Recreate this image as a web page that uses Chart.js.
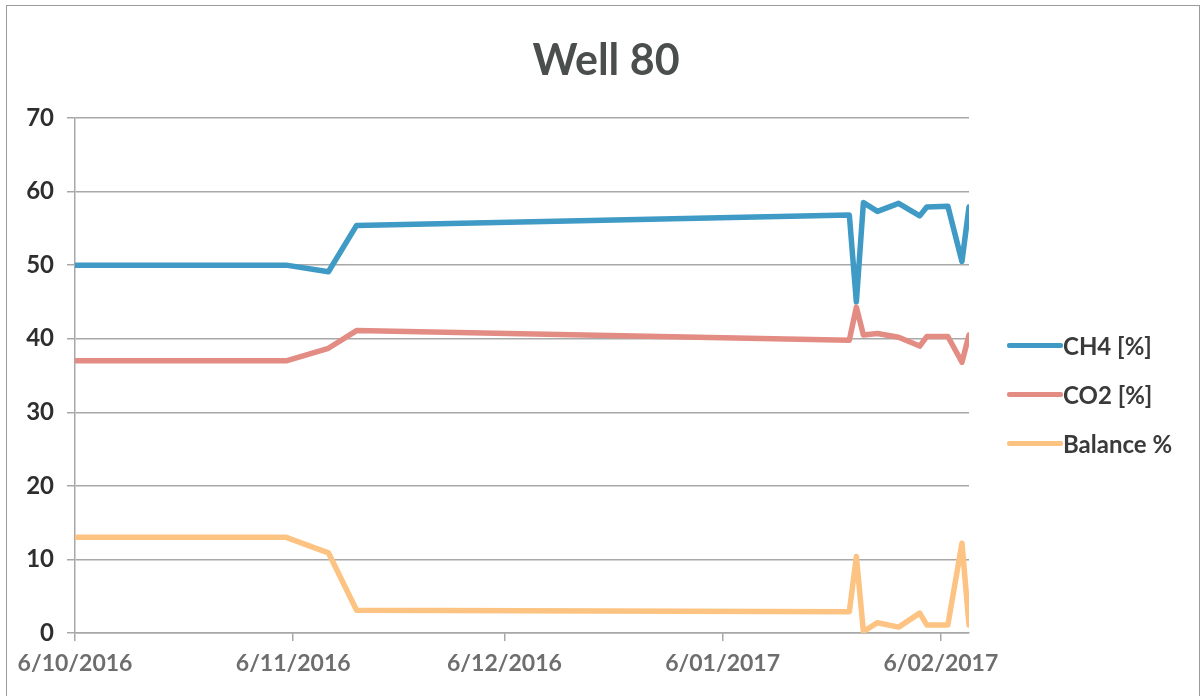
<!DOCTYPE html>
<html>
<head>
<meta charset="utf-8">
<script src="https://cdn.jsdelivr.net/npm/chart.js@4/dist/chart.umd.min.js"></script>
<style>
  html, body { margin: 0; padding: 0; background: #fff; }
  #wrap { position: relative; width: 1203px; height: 696px; overflow: hidden; }
  #frame { position: absolute; left: 6px; top: 5px; width: 1194px; height: 700px; border: 1.5px solid #9a9a9a; box-sizing: border-box; pointer-events: none; }
  canvas { position: absolute; left: 0; top: 0; }
  #title { position: absolute; left: 406px; width: 400px; top: 33px; text-align: center; font-family: Lato, "Open Sans", sans-serif; font-size: 43px; font-weight: bold; color: #4a4e4d; line-height: 52px; }
  #legend { position: absolute; left: 1007px; top: 331px; font-family: Lato, "Open Sans", sans-serif; font-size: 24px; font-weight: bold; color: #3a3a3a; }
  .item { height: 49px; display: flex; align-items: flex-start; line-height: 29px; }
  .line { width: 56px; height: 5px; margin-top: 12px; border-radius: 2px; }
</style>
</head>
<body>
<div id="wrap">
  <canvas id="c" width="1203" height="696"></canvas>
  <div id="frame"></div>
  <div id="title">Well 80</div>
  <div id="legend"></div>
</div>
<script>
// days since 6/10/2016 (6 Oct 2016)
const days = [0, 30, 36, 40, 110, 111, 112, 114, 117, 120, 121, 124, 126, 127];
const ch4 = [50, 50, 49.1, 55.4, 56.8, 45, 58.5, 57.3, 58.4, 56.7, 57.9, 58, 50.5, 57.9];
const co2 = [37, 37, 38.7, 41.1, 39.8, 44.3, 40.5, 40.7, 40.2, 39, 40.3, 40.3, 36.8, 40.5];
const balance = [13, 13, 10.9, 3.1, 2.9, 10.4, 0.2, 1.4, 0.8, 2.7, 1.1, 1.1, 12.2, 1.1];
const tickDays = [0, 31, 61, 92, 123];
const tickLabels = ['6/10/2016', '6/11/2016', '6/12/2016', '6/01/2017', '6/02/2017'];
const seriesNames = ['CH4 [%]', 'CO2 [%]', 'Balance %'];
const colors = ['#3f9ac5', '#e38c84', '#fdc383'];

const pts = arr => arr.map((v, i) => ({x: days[i], y: v}));
const seriesData = [ch4, co2, balance];

const datasets = seriesData.map((arr, i) => ({
  label: seriesNames[i],
  data: pts(arr),
  borderColor: colors[i],
  backgroundColor: colors[i],
  borderWidth: 5.5,
  borderJoinStyle: 'round',
  borderCapStyle: 'round',
  pointRadius: 0,
  tension: 0,
  fill: false,
  order: i === 0 ? 2 : (i === 1 ? 1 : 0)
}));

new Chart(document.getElementById('c'), {
  type: 'line',
  data: { datasets },
  options: {
    responsive: false,
    animation: false,
    layout: { padding: { left: 0, right: 234, top: 118, bottom: 0 } },
    plugins: {
      legend: { display: false },
      tooltip: { enabled: false },
      title: { display: false }
    },
    scales: {
      x: {
        type: 'linear',
        min: 0,
        max: 127,
        afterBuildTicks: axis => { axis.ticks = tickDays.map(v => ({ value: v })); },
        afterFit: axis => { axis.height = 63; },
        ticks: {
          autoSkip: false,
          maxRotation: 0,
          padding: 9,
          color: '#6e6e6e',
          font: { family: 'Lato, "Open Sans", sans-serif', size: 23, weight: 'bold' },
          callback: (v) => { const k = tickDays.indexOf(v); return k >= 0 ? tickLabels[k] : ''; }
        },
        grid: { display: true, drawOnChartArea: false, drawTicks: true, tickLength: 8, color: '#a8a8a8', lineWidth: 1.5 },
        border: { display: true, color: '#a8a8a8', width: 1.5 }
      },
      y: {
        min: 0,
        max: 70,
        afterFit: axis => { axis.width = 75; },
        ticks: {
          stepSize: 10,
          padding: 13,
          color: '#2e2e2e',
          font: { family: 'Lato, "Open Sans", sans-serif', size: 24, weight: 'bold' }
        },
        grid: { color: '#a8a8a8', lineWidth: 1.5, drawTicks: true, tickLength: 8 },
        border: { display: true, color: '#a8a8a8', width: 1.5 }
      }
    }
  }
});

const leg = document.getElementById('legend');
seriesNames.forEach((n, i) => {
  const it = document.createElement('div');
  it.className = 'item';
  const ln = document.createElement('div');
  ln.className = 'line';
  ln.style.background = colors[i];
  const tx = document.createElement('span');
  tx.textContent = n;
  it.appendChild(ln); it.appendChild(tx);
  leg.appendChild(it);
});
</script>
</body>
</html>
